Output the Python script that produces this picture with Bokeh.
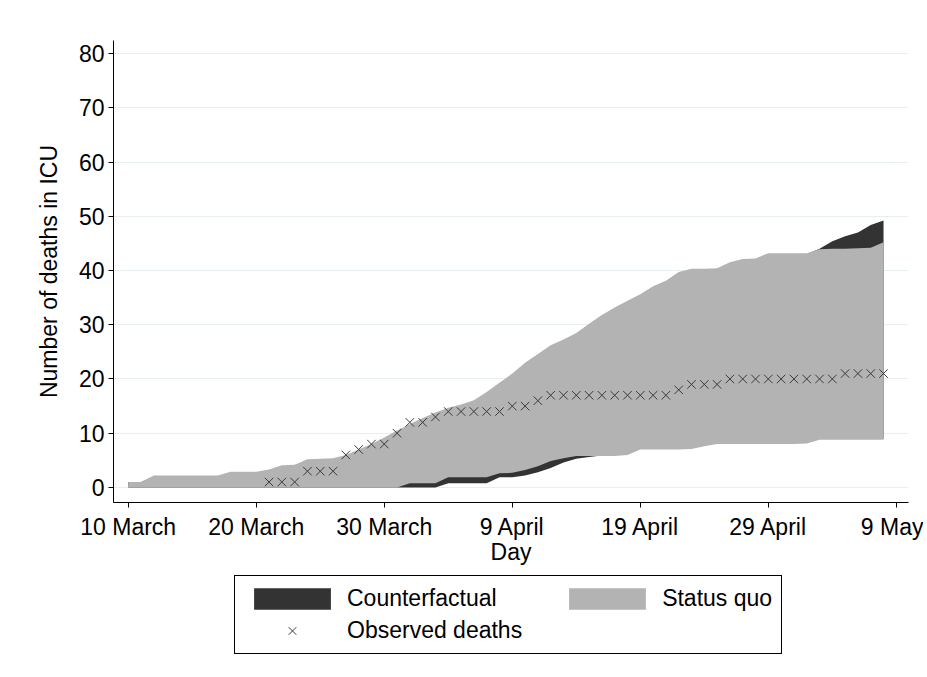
from bokeh.plotting import figure
from bokeh.layouts import column
from bokeh.models import Legend, LegendItem, FixedTicker, Range1d, ColumnDataSource
from bokeh.embed import file_html
from bokeh.resources import INLINE

# ---- data (days since 10 March) ----
days = list(range(60))

sq_lower = [0, 0, 0, 0, 0, 0, 0, 0, 0, 0,
            0, 0, 0, 0, 0, 0, 0, 0, 0, 0,
            0, 0, 0.8, 0.8, 0.8, 1.9, 1.9, 1.9, 1.9, 2.6,
            2.7, 3.2, 3.9, 4.9, 5.4, 5.8, 5.8, 5.8, 5.8, 6.0,
            7.0, 7.0, 7.0, 7.0, 7.1, 7.6, 8.0, 8.0, 8.0, 8.0,
            8.0, 8.0, 8.0, 8.1, 8.8, 8.8, 8.8, 8.8, 8.8, 8.8]

sq_upper = [1.0, 1.0, 2.2, 2.2, 2.2, 2.2, 2.2, 2.2, 2.9, 2.9,
            2.9, 3.3, 4.1, 4.2, 5.2, 5.3, 5.4, 6.0, 7.0, 8.0,
            9.2, 10.5, 11.7, 12.8, 13.8, 14.7, 15.3, 16.1, 17.6, 19.3,
            21.0, 23.0, 24.6, 26.2, 27.3, 28.5, 30.2, 31.8, 33.2, 34.4,
            35.6, 37.1, 38.1, 39.7, 40.3, 40.3, 40.4, 41.5, 42.1, 42.2,
            43.2, 43.2, 43.2, 43.2, 43.9, 44.0, 44.0, 44.1, 44.2, 45.2]

cf_lower = [0, 0, 0, 0, 0, 0, 0, 0, 0, 0,
            0, 0, 0, 0, 0, 0, 0, 0, 0, 0,
            0, 0, 0, 0, 0, 0.8, 0.8, 0.8, 0.8, 1.9,
            1.9, 2.2, 2.8, 3.6, 4.6, 5.3, 5.6, 5.9, 6.0, 6.3,
            7.2, 7.2, 7.2, 7.2, 7.3, 7.8, 8.2, 8.2, 8.2, 8.2,
            8.2, 8.2, 8.2, 8.3, 9.0, 9.0, 9.0, 9.0, 9.0, 9.0]

cf_upper = [1.0, 1.0, 2.0, 2.0, 2.0, 2.0, 2.0, 2.0, 2.7, 2.7,
            2.7, 3.1, 3.9, 4.0, 5.0, 5.1, 5.2, 5.8, 6.8, 7.8,
            9.0, 10.3, 11.5, 12.6, 13.6, 14.5, 15.1, 15.9, 17.4, 19.1,
            20.8, 22.8, 24.4, 26.0, 27.1, 28.3, 30.0, 31.6, 33.0, 34.2,
            35.4, 36.9, 37.9, 39.5, 40.1, 40.1, 40.2, 41.3, 41.9, 42.0,
            43.0, 43.0, 43.0, 43.0, 44.0, 45.4, 46.3, 47.0, 48.4, 49.2]

obs_days = list(range(11, 60))
obs_vals = [1, 1, 1, 3, 3, 3, 6, 7, 8, 8,
            10, 12, 12, 13, 14, 14, 14, 14, 14, 15,
            15, 16, 17, 17, 17, 17, 17, 17, 17, 17,
            17, 17, 18, 19, 19, 19, 20, 20, 20, 20,
            20, 20, 20, 20, 20, 21, 21, 21, 21]

x_ticks = [0, 10, 20, 30, 40, 50, 60]
x_tick_labels = ["10 March", "20 March", "30 March", "9 April", "19 April", "29 April", "9 May"]
y_ticks = [0, 10, 20, 30, 40, 50, 60, 70, 80]
legend_labels = ["Counterfactual", "Status quo", "Observed deaths"]

FONT = "Liberation Sans"
FS = "23px"
DARK = "#333333"
GREY = "#b3b3b3"
MARK = "#3a3a3a"

bands = ColumnDataSource(dict(day=days, sq_lo=sq_lower, sq_hi=sq_upper,
                              cf_lo=cf_lower, cf_hi=cf_upper))
obs = ColumnDataSource(dict(day=obs_days, deaths=obs_vals))

# ---------------- main chart ----------------
p = figure(width=923, height=575,
           x_range=Range1d(-1.15, 60.95), y_range=Range1d(-2.77, 82.4),
           output_backend="svg", toolbar_location=None,
           min_border_left=113, min_border_top=40, min_border_right=15,
           min_border_bottom=73)

p.varea(x="day", y1="cf_lo", y2="cf_hi", source=bands, fill_color=DARK)
p.varea(x="day", y1="sq_lo", y2="sq_hi", source=bands, fill_color=GREY)
p.scatter(x="day", y="deaths", source=obs, marker="x", size=12,
          line_color=MARK, line_width=1)

p.outline_line_color = None
p.background_fill_color = "white"
p.border_fill_color = "white"
p.xgrid.grid_line_color = None
p.ygrid.grid_line_color = "#e6eeee"
p.ygrid.grid_line_width = 1

p.xaxis.ticker = FixedTicker(ticks=x_ticks)
p.xaxis.major_label_overrides = {t: l for t, l in zip(x_ticks, x_tick_labels)}
p.yaxis.ticker = FixedTicker(ticks=y_ticks)

for ax in (p.xaxis[0], p.yaxis[0]):
    ax.axis_line_color = "black"
    ax.axis_line_width = 1
    ax.major_tick_line_color = "black"
    ax.major_tick_out = 5
    ax.major_tick_in = 0
    ax.minor_tick_out = 0
    ax.minor_tick_in = 0
    ax.major_label_text_font = FONT
    ax.major_label_text_font_size = FS
    ax.major_label_text_color = "black"
    ax.axis_label_text_font = FONT
    ax.axis_label_text_font_size = FS
    ax.axis_label_text_font_style = "normal"
    ax.axis_label_text_color = "black"

p.xaxis.axis_label = "Day"
p.yaxis.axis_label = "Number of deaths in ICU"
p.xaxis.major_label_standoff = 6
p.xaxis.axis_label_standoff = -4
p.yaxis.major_label_standoff = 4
p.yaxis.axis_label_standoff = 14

# ---------------- legend strip (keys reuse the same data, drawn out of view) ----------------
lf = figure(width=923, height=90, x_range=Range1d(-1000, -999), y_range=Range1d(-1000, -999),
            x_axis_type=None, y_axis_type=None,
            output_backend="svg", toolbar_location=None,
            min_border_left=0, min_border_right=0, min_border_top=0, min_border_bottom=0)
lf.outline_line_color = None
lf.background_fill_color = "white"
lf.border_fill_color = "white"

key_cf = lf.varea(x="day", y1="cf_lo", y2="cf_hi", source=bands, fill_color=DARK)
key_sq = lf.varea(x="day", y1="sq_lo", y2="sq_hi", source=bands, fill_color=GREY)
key_ob = lf.scatter(x="day", y="deaths", source=obs, marker="x",
                    line_color=MARK, line_width=1)

pad = "\u00a0" * 5
legend = Legend(items=[LegendItem(label=legend_labels[0], renderers=[key_cf]),
                       LegendItem(label=legend_labels[1], renderers=[key_sq]),
                       LegendItem(label=legend_labels[2] + pad, renderers=[key_ob])],
                ncols=2, orientation="horizontal", location=(121, 11))
legend.border_line_color = "black"
legend.border_line_alpha = 1.0
legend.border_line_width = 1
legend.background_fill_color = "white"
legend.background_fill_alpha = 1.0
legend.padding = 9
legend.spacing = 5
legend.margin = 0
legend.glyph_width = 96
legend.glyph_height = 27
legend.label_standoff = 7
legend.label_height = 22
legend.label_text_font = FONT
legend.label_text_font_size = FS
legend.label_text_color = "black"
lf.add_layout(legend, "center")

layout = column(p, lf, spacing=0)
open("out.html", "w").write(file_html(layout, INLINE))
